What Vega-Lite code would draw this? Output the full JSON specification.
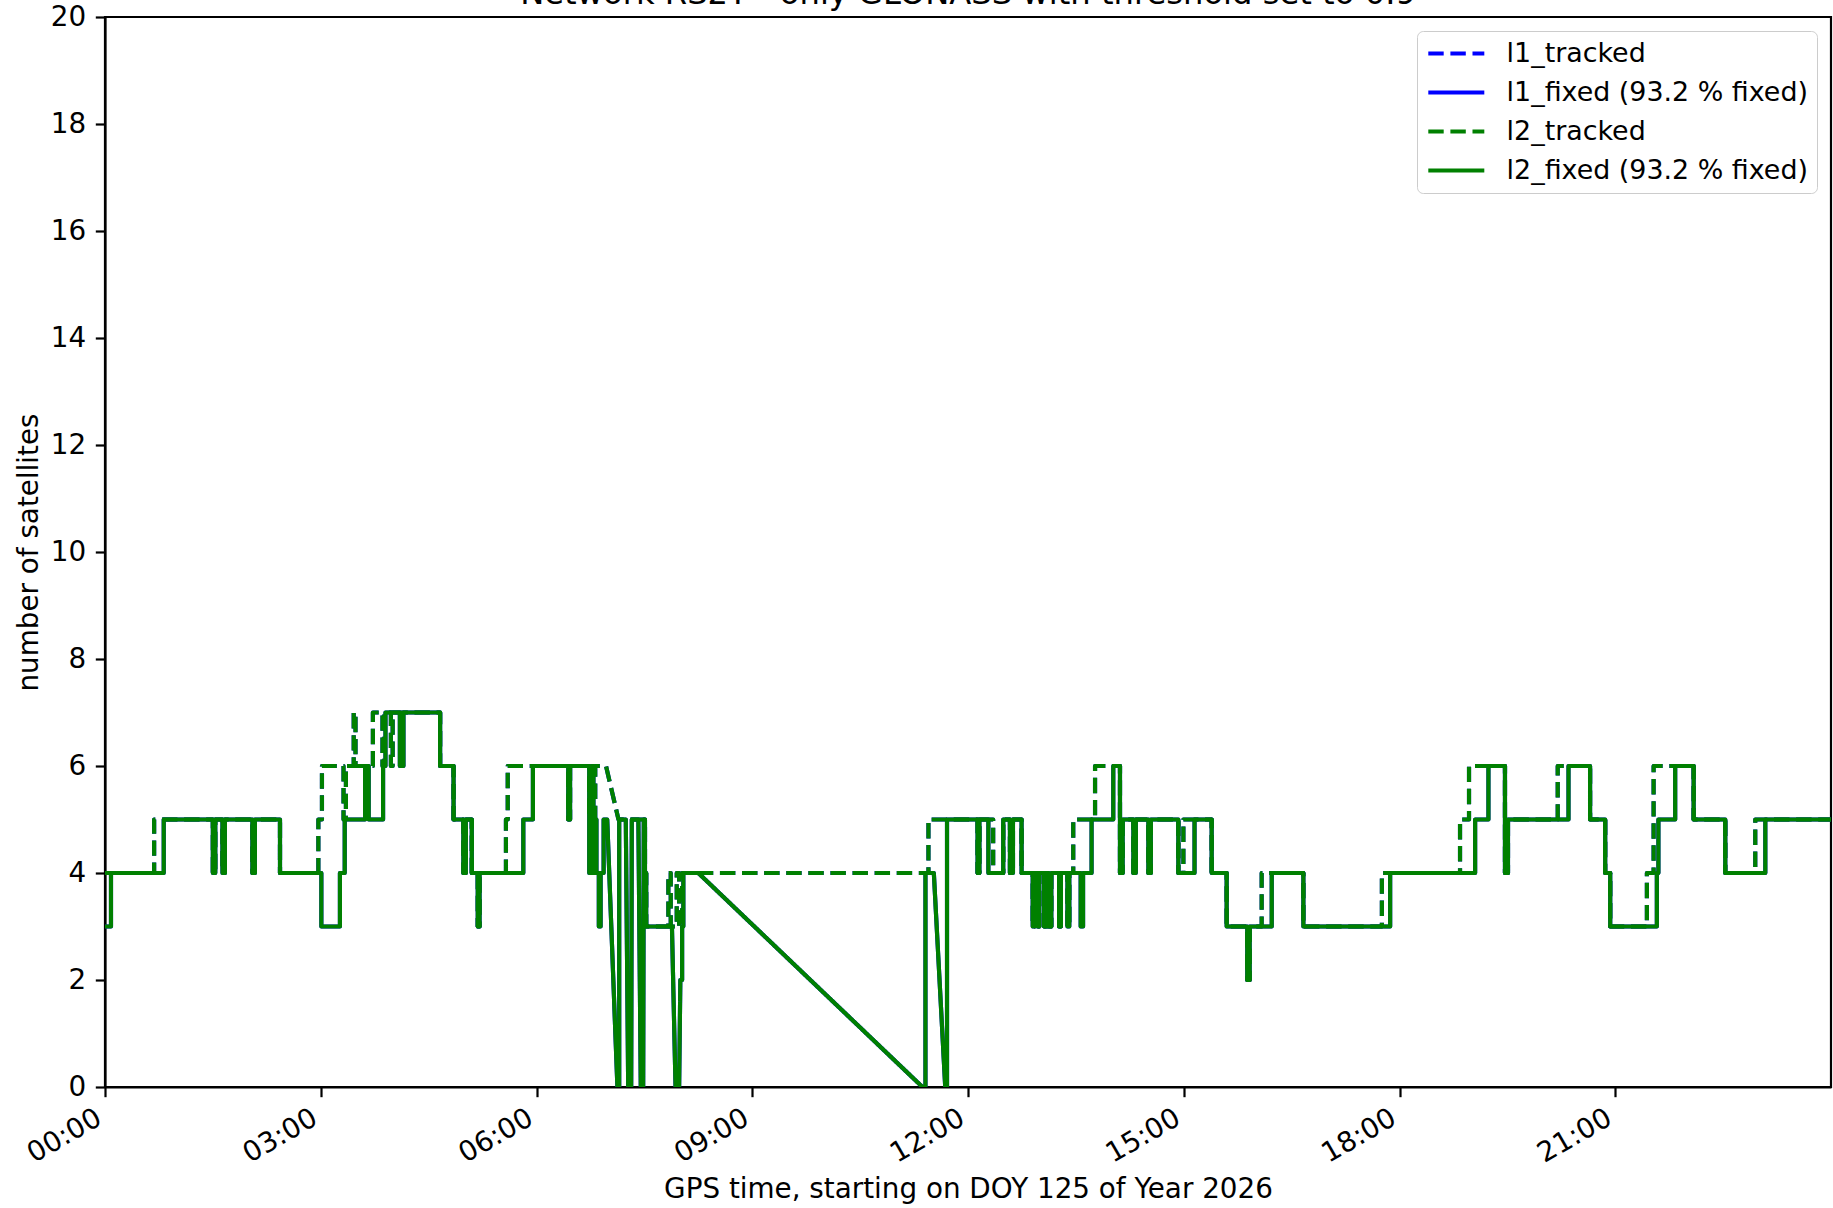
{
  "$schema": "https://vega.github.io/schema/vega-lite/v6.json",
  "autosize": "none",
  "width": 1726,
  "height": 1070,
  "padding": {"left": 105, "top": 17, "right": 2, "bottom": 121},
  "background": "white",
  "title": {
    "text": "Network RS2Y - only GLONASS with threshold set to 0.9",
    "font": "DejaVu Sans",
    "fontSize": 32.2,
    "fontWeight": "normal",
    "color": "black",
    "anchor": "middle",
    "baseline": "alphabetic",
    "frame": "group",
    "offset": -33
  },
  "config": {
    "font": "DejaVu Sans",
    "view": {"stroke": "black", "strokeWidth": 2.2},
    "axis": {
      "grid": false,
      "domainColor": "black",
      "domainWidth": 2.2,
      "tickColor": "black",
      "tickWidth": 2.2,
      "tickSize": 9.7,
      "labelFont": "DejaVu Sans",
      "labelFontSize": 27.8,
      "labelColor": "black",
      "titleFont": "DejaVu Sans",
      "titleFontSize": 27.8,
      "titleFontWeight": "normal",
      "titleColor": "black"
    },
    "legend": {
      "labelFont": "DejaVu Sans",
      "labelFontSize": 26.9,
      "labelColor": "black",
      "labelLimit": 600
    }
  },
  "datasets": {
    "fixed": [
      {"t": 0, "n": 3}, {"t": 5, "n": 3}, {"t": 5, "n": 4}, {"t": 49, "n": 4}, {"t": 49, "n": 5},
      {"t": 90, "n": 5}, {"t": 90, "n": 4}, {"t": 92, "n": 4}, {"t": 92, "n": 5},
      {"t": 98, "n": 5}, {"t": 98, "n": 4}, {"t": 100, "n": 4}, {"t": 100, "n": 5},
      {"t": 123, "n": 5}, {"t": 123, "n": 4}, {"t": 125, "n": 4}, {"t": 125, "n": 5},
      {"t": 146, "n": 5}, {"t": 146, "n": 4}, {"t": 180.5, "n": 4}, {"t": 180.5, "n": 3},
      {"t": 196, "n": 3}, {"t": 196, "n": 4}, {"t": 200, "n": 4}, {"t": 200, "n": 5},
      {"t": 217, "n": 5}, {"t": 217, "n": 6}, {"t": 220, "n": 6}, {"t": 220, "n": 5},
      {"t": 232, "n": 5}, {"t": 232, "n": 6}, {"t": 234, "n": 6}, {"t": 234, "n": 7},
      {"t": 246, "n": 7}, {"t": 246, "n": 6}, {"t": 249, "n": 6}, {"t": 249, "n": 7},
      {"t": 279.6, "n": 7}, {"t": 279.6, "n": 6}, {"t": 290.8, "n": 6}, {"t": 290.8, "n": 5},
      {"t": 299, "n": 5}, {"t": 299, "n": 4}, {"t": 301, "n": 4}, {"t": 301, "n": 5},
      {"t": 306, "n": 5}, {"t": 306, "n": 4}, {"t": 311, "n": 4}, {"t": 311, "n": 3},
      {"t": 312.5, "n": 3}, {"t": 312.5, "n": 4}, {"t": 349, "n": 4}, {"t": 349, "n": 5},
      {"t": 357, "n": 5}, {"t": 357, "n": 6}, {"t": 386.5, "n": 6}, {"t": 386.5, "n": 5},
      {"t": 388, "n": 5}, {"t": 388, "n": 6}, {"t": 404, "n": 6}, {"t": 404, "n": 4},
      {"t": 406, "n": 4}, {"t": 406, "n": 5}, {"t": 407, "n": 5}, {"t": 407, "n": 4},
      {"t": 409, "n": 4}, {"t": 409, "n": 5}, {"t": 410, "n": 5}, {"t": 410, "n": 4},
      {"t": 412, "n": 4}, {"t": 412, "n": 3}, {"t": 413.5, "n": 3}, {"t": 413.5, "n": 4},
      {"t": 416, "n": 4}, {"t": 416, "n": 5}, {"t": 419, "n": 5}, {"t": 427.5, "n": 0},
      {"t": 429, "n": 0}, {"t": 429, "n": 5}, {"t": 434.5, "n": 5}, {"t": 436.5, "n": 0},
      {"t": 439, "n": 0}, {"t": 439.5, "n": 5}, {"t": 445, "n": 5}, {"t": 447, "n": 0},
      {"t": 449, "n": 0}, {"t": 449.5, "n": 5}, {"t": 450.5, "n": 5}, {"t": 450.5, "n": 4},
      {"t": 451.5, "n": 4}, {"t": 451.5, "n": 3}, {"t": 473, "n": 3}, {"t": 476, "n": 0},
      {"t": 479, "n": 0}, {"t": 480, "n": 2}, {"t": 481.5, "n": 2}, {"t": 481.5, "n": 3},
      {"t": 482.5, "n": 3}, {"t": 482.5, "n": 4}, {"t": 495, "n": 4}, {"t": 682, "n": 0},
      {"t": 684.5, "n": 0}, {"t": 684.5, "n": 4}, {"t": 691.5, "n": 4}, {"t": 701, "n": 0},
      {"t": 702.5, "n": 0}, {"t": 702.5, "n": 5}, {"t": 728, "n": 5}, {"t": 728, "n": 4},
      {"t": 729.5, "n": 4}, {"t": 729.5, "n": 5}, {"t": 737, "n": 5}, {"t": 737, "n": 4},
      {"t": 749.4, "n": 4}, {"t": 749.4, "n": 5}, {"t": 755, "n": 5}, {"t": 755, "n": 4},
      {"t": 757.5, "n": 4}, {"t": 757.5, "n": 5}, {"t": 764.7, "n": 5}, {"t": 764.7, "n": 4},
      {"t": 774, "n": 4}, {"t": 774, "n": 3}, {"t": 775.5, "n": 3}, {"t": 775.5, "n": 4},
      {"t": 778, "n": 4}, {"t": 778, "n": 3}, {"t": 779.5, "n": 3}, {"t": 779.5, "n": 4},
      {"t": 783.5, "n": 4}, {"t": 783.5, "n": 3}, {"t": 785, "n": 3}, {"t": 785, "n": 4},
      {"t": 787.5, "n": 4}, {"t": 787.5, "n": 3}, {"t": 789.5, "n": 3}, {"t": 789.5, "n": 4},
      {"t": 796, "n": 4}, {"t": 796, "n": 3}, {"t": 797.5, "n": 3}, {"t": 797.5, "n": 4},
      {"t": 803, "n": 4}, {"t": 803, "n": 3}, {"t": 804.5, "n": 3}, {"t": 804.5, "n": 4},
      {"t": 814, "n": 4}, {"t": 814, "n": 3}, {"t": 816, "n": 3}, {"t": 816, "n": 4},
      {"t": 823.1, "n": 4}, {"t": 823.1, "n": 5}, {"t": 841.2, "n": 5}, {"t": 841.2, "n": 6},
      {"t": 846.8, "n": 6}, {"t": 846.8, "n": 4}, {"t": 849, "n": 4}, {"t": 849, "n": 5},
      {"t": 858, "n": 5}, {"t": 858, "n": 4}, {"t": 860, "n": 4}, {"t": 860, "n": 5},
      {"t": 870.5, "n": 5}, {"t": 870.5, "n": 4}, {"t": 872.5, "n": 4}, {"t": 872.5, "n": 5},
      {"t": 895.5, "n": 5}, {"t": 895.5, "n": 4}, {"t": 909, "n": 4}, {"t": 909, "n": 5},
      {"t": 923.3, "n": 5}, {"t": 923.3, "n": 4}, {"t": 935.8, "n": 4}, {"t": 935.8, "n": 3},
      {"t": 953, "n": 3}, {"t": 953, "n": 2}, {"t": 955, "n": 2}, {"t": 955, "n": 3},
      {"t": 973.4, "n": 3}, {"t": 973.4, "n": 4}, {"t": 999.8, "n": 4}, {"t": 999.8, "n": 3},
      {"t": 1072.2, "n": 3}, {"t": 1072.2, "n": 4}, {"t": 1143.1, "n": 4}, {"t": 1143.1, "n": 5},
      {"t": 1154.2, "n": 5}, {"t": 1154.2, "n": 6}, {"t": 1168, "n": 6}, {"t": 1168, "n": 4},
      {"t": 1170.5, "n": 4}, {"t": 1170.5, "n": 5}, {"t": 1221, "n": 5}, {"t": 1221, "n": 6},
      {"t": 1239, "n": 6}, {"t": 1239, "n": 5}, {"t": 1251.6, "n": 5}, {"t": 1251.6, "n": 4},
      {"t": 1255.8, "n": 4}, {"t": 1255.8, "n": 3}, {"t": 1294.7, "n": 3}, {"t": 1294.7, "n": 4},
      {"t": 1296, "n": 4}, {"t": 1296, "n": 5}, {"t": 1310, "n": 5}, {"t": 1310, "n": 6},
      {"t": 1325.4, "n": 6}, {"t": 1325.4, "n": 5}, {"t": 1351.8, "n": 5}, {"t": 1351.8, "n": 4},
      {"t": 1385.2, "n": 4}, {"t": 1385.2, "n": 5}, {"t": 1440, "n": 5}
    ],
    "tracked": [
      {"t": 0, "n": 4}, {"t": 41, "n": 4}, {"t": 41, "n": 5},
      {"t": 90, "n": 5}, {"t": 90, "n": 4}, {"t": 92, "n": 4}, {"t": 92, "n": 5},
      {"t": 98, "n": 5}, {"t": 98, "n": 4}, {"t": 100, "n": 4}, {"t": 100, "n": 5},
      {"t": 123, "n": 5}, {"t": 123, "n": 4}, {"t": 125, "n": 4}, {"t": 125, "n": 5},
      {"t": 146, "n": 5}, {"t": 146, "n": 4}, {"t": 178, "n": 4}, {"t": 178, "n": 5},
      {"t": 181, "n": 5}, {"t": 181, "n": 6}, {"t": 199, "n": 6}, {"t": 199, "n": 5},
      {"t": 201, "n": 5}, {"t": 201, "n": 6}, {"t": 207.5, "n": 6}, {"t": 207.5, "n": 7},
      {"t": 209, "n": 7}, {"t": 209, "n": 6}, {"t": 223.5, "n": 6}, {"t": 223.5, "n": 7},
      {"t": 231.5, "n": 7}, {"t": 231.5, "n": 6}, {"t": 233, "n": 6}, {"t": 233, "n": 7},
      {"t": 238.5, "n": 7}, {"t": 238.5, "n": 6}, {"t": 240, "n": 6}, {"t": 240, "n": 7},
      {"t": 279.6, "n": 7}, {"t": 279.6, "n": 6}, {"t": 290.8, "n": 6}, {"t": 290.8, "n": 5},
      {"t": 299, "n": 5}, {"t": 299, "n": 4}, {"t": 301, "n": 4}, {"t": 301, "n": 5},
      {"t": 306, "n": 5}, {"t": 306, "n": 4}, {"t": 311, "n": 4}, {"t": 311, "n": 3},
      {"t": 312.5, "n": 3}, {"t": 312.5, "n": 4}, {"t": 334.5, "n": 4}, {"t": 334.5, "n": 5},
      {"t": 336, "n": 5}, {"t": 336, "n": 6}, {"t": 386.5, "n": 6}, {"t": 386.5, "n": 5},
      {"t": 388, "n": 5}, {"t": 388, "n": 6}, {"t": 404, "n": 6}, {"t": 404, "n": 5},
      {"t": 406, "n": 5}, {"t": 406, "n": 6}, {"t": 407.5, "n": 6}, {"t": 407.5, "n": 5},
      {"t": 409, "n": 5}, {"t": 409, "n": 6}, {"t": 418, "n": 6}, {"t": 428.4, "n": 5},
      {"t": 450.5, "n": 5}, {"t": 450.5, "n": 4}, {"t": 451.5, "n": 4}, {"t": 451.5, "n": 3},
      {"t": 470, "n": 3}, {"t": 470, "n": 4}, {"t": 472, "n": 4}, {"t": 472, "n": 3},
      {"t": 477, "n": 3}, {"t": 477, "n": 4}, {"t": 479, "n": 4}, {"t": 479, "n": 3},
      {"t": 481.5, "n": 3}, {"t": 481.5, "n": 4}, {"t": 687, "n": 4}, {"t": 687, "n": 5},
      {"t": 728, "n": 5}, {"t": 728, "n": 4}, {"t": 729.5, "n": 4}, {"t": 729.5, "n": 5},
      {"t": 741, "n": 5}, {"t": 741, "n": 4}, {"t": 749.4, "n": 4}, {"t": 749.4, "n": 5},
      {"t": 755, "n": 5}, {"t": 755, "n": 4}, {"t": 757.5, "n": 4}, {"t": 757.5, "n": 5},
      {"t": 764.7, "n": 5}, {"t": 764.7, "n": 4}, {"t": 774, "n": 4}, {"t": 774, "n": 3},
      {"t": 775.5, "n": 3}, {"t": 775.5, "n": 4}, {"t": 778, "n": 4}, {"t": 778, "n": 3},
      {"t": 779.5, "n": 3}, {"t": 779.5, "n": 4}, {"t": 783.5, "n": 4}, {"t": 783.5, "n": 3},
      {"t": 785, "n": 3}, {"t": 785, "n": 4}, {"t": 787.5, "n": 4}, {"t": 787.5, "n": 3},
      {"t": 789.5, "n": 3}, {"t": 789.5, "n": 4}, {"t": 796, "n": 4}, {"t": 796, "n": 3},
      {"t": 797.5, "n": 3}, {"t": 797.5, "n": 4}, {"t": 803, "n": 4}, {"t": 803, "n": 3},
      {"t": 804.5, "n": 3}, {"t": 804.5, "n": 4}, {"t": 807.8, "n": 4}, {"t": 807.8, "n": 5},
      {"t": 826, "n": 5}, {"t": 826, "n": 6}, {"t": 846.8, "n": 6}, {"t": 846.8, "n": 4},
      {"t": 849, "n": 4}, {"t": 849, "n": 5}, {"t": 858, "n": 5}, {"t": 858, "n": 4},
      {"t": 860, "n": 4}, {"t": 860, "n": 5}, {"t": 870.5, "n": 5}, {"t": 870.5, "n": 4},
      {"t": 872.5, "n": 4}, {"t": 872.5, "n": 5}, {"t": 895.5, "n": 5}, {"t": 895.5, "n": 4},
      {"t": 899.7, "n": 4}, {"t": 899.7, "n": 5}, {"t": 923.3, "n": 5}, {"t": 923.3, "n": 4},
      {"t": 935.8, "n": 4}, {"t": 935.8, "n": 3}, {"t": 953, "n": 3}, {"t": 953, "n": 2},
      {"t": 955, "n": 2}, {"t": 955, "n": 3}, {"t": 965, "n": 3}, {"t": 965, "n": 4},
      {"t": 999.8, "n": 4}, {"t": 999.8, "n": 3}, {"t": 1065.3, "n": 3}, {"t": 1065.3, "n": 4},
      {"t": 1130.5, "n": 4}, {"t": 1130.5, "n": 5}, {"t": 1138, "n": 5}, {"t": 1138, "n": 6},
      {"t": 1168, "n": 6}, {"t": 1168, "n": 4}, {"t": 1170.5, "n": 4}, {"t": 1170.5, "n": 5},
      {"t": 1212, "n": 5}, {"t": 1212, "n": 6}, {"t": 1239, "n": 6}, {"t": 1239, "n": 5},
      {"t": 1251.6, "n": 5}, {"t": 1251.6, "n": 4}, {"t": 1255.8, "n": 4}, {"t": 1255.8, "n": 3},
      {"t": 1286.4, "n": 3}, {"t": 1286.4, "n": 4}, {"t": 1292, "n": 4}, {"t": 1292, "n": 6},
      {"t": 1325.4, "n": 6}, {"t": 1325.4, "n": 5}, {"t": 1351.8, "n": 5}, {"t": 1351.8, "n": 4},
      {"t": 1376.8, "n": 4}, {"t": 1376.8, "n": 5}, {"t": 1440, "n": 5}
    ]
  },
  "encoding": {
    "x": {
      "field": "t",
      "type": "quantitative",
      "scale": {"domain": [0, 1440], "nice": false, "zero": false},
      "axis": {
        "title": "GPS time, starting on DOY 125 of Year 2026",
        "values": [0, 180, 360, 540, 720, 900, 1080, 1260],
        "labelExpr": "(datum.value < 600 ? '0' : '') + (datum.value / 60) + ':00'",
        "labelAngle": -30,
        "labelAlign": "right",
        "labelBaseline": "alphabetic",
        "labelPadding": 26,
        "labelOffset": -2,
        "labelFlush": false,
        "labelOverlap": false,
        "titleY": 102,
        "titleBaseline": "middle"
      }
    },
    "y": {
      "field": "n",
      "type": "quantitative",
      "scale": {"domain": [0, 20], "nice": false},
      "axis": {
        "title": "number of satellites",
        "values": [0, 2, 4, 6, 8, 10, 12, 14, 16, 18, 20],
        "labelPadding": 9.7,
        "labelFlush": false,
        "titleX": -76,
        "titleBaseline": "middle"
      }
    },
    "order": {"value": null}
  },
  "layer": [
    {
      "data": {"name": "tracked"},
      "mark": {"type": "line", "strokeWidth": 4.17, "strokeJoin": "round", "clip": true},
      "encoding": {
        "color": {
          "datum": "l1_tracked",
          "type": "nominal",
          "scale": {
            "domain": ["l1_tracked", "l1_fixed (93.2 % fixed)", "l2_tracked", "l2_fixed (93.2 % fixed)"],
            "range": ["#0000ff", "#0000ff", "#008000", "#008000"]
          },
          "legend": {
            "title": null,
            "orient": "top-right",
            "offset": 14,
            "symbolType": "M-1,0L4,0",
            "symbolSize": 502,
            "symbolStrokeWidth": 4.17,
            "labelOffset": 53.6,
            "labelLimit": 600,
            "rowPadding": 11,
            "padding": 9,
            "fillColor": "rgba(255,255,255,0.8)",
            "strokeColor": "#cccccc",
            "cornerRadius": 6
          }
        },
        "strokeDash": {
          "datum": "l1_tracked",
          "type": "nominal",
          "scale": {
            "domain": ["l1_tracked", "l1_fixed (93.2 % fixed)", "l2_tracked", "l2_fixed (93.2 % fixed)"],
            "range": [[15.4, 6.7], [1, 0], [15.4, 6.7], [1, 0]]
          }
        }
      }
    },
    {
      "data": {"name": "fixed"},
      "mark": {"type": "line", "strokeWidth": 4.17, "strokeJoin": "round", "clip": true},
      "encoding": {
        "color": {"datum": "l1_fixed (93.2 % fixed)", "type": "nominal"},
        "strokeDash": {"datum": "l1_fixed (93.2 % fixed)", "type": "nominal"}
      }
    },
    {
      "data": {"name": "tracked"},
      "mark": {"type": "line", "strokeWidth": 4.17, "strokeJoin": "round", "clip": true},
      "encoding": {
        "color": {"datum": "l2_tracked", "type": "nominal"},
        "strokeDash": {"datum": "l2_tracked", "type": "nominal"}
      }
    },
    {
      "data": {"name": "fixed"},
      "mark": {"type": "line", "strokeWidth": 4.17, "strokeJoin": "round", "clip": true},
      "encoding": {
        "color": {"datum": "l2_fixed (93.2 % fixed)", "type": "nominal"},
        "strokeDash": {"datum": "l2_fixed (93.2 % fixed)", "type": "nominal"}
      }
    }
  ]
}
